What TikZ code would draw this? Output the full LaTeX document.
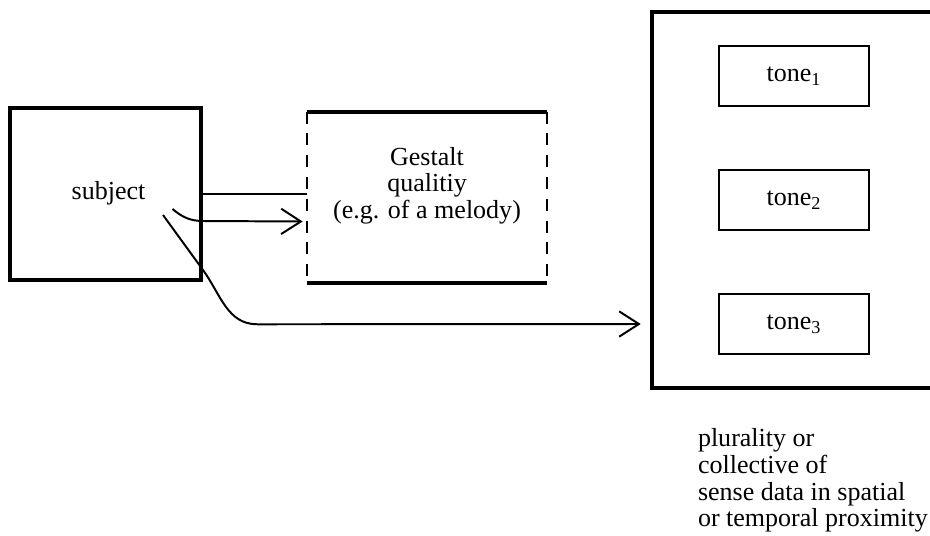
\documentclass[tikz,border=0pt]{standalone}
\usepackage{fontspec}
\setmainfont{Liberation Serif}
\usepackage{tikz}
\usetikzlibrary{arrows.meta, positioning, calc}

\begin{document}
\begin{tikzpicture}[
    x=0.025cm, y=-0.025cm,
    node distance=1.55cm,
    every node/.style={font=\fontsize{18.5}{19}\selectfont, align=center},
    heavybox/.style={rectangle, draw, line width=3.2pt},
    tonebox/.style={rectangle, draw, line width=1.4pt, minimum width=3.75cm, minimum height=1.5cm},
    link/.style={line width=1.4pt},
    arrow/.style={link, -{Straight Barb[length=14pt, width=18pt, line width=1.4pt]}}
]
\clip (0,0) rectangle (930,535);
\useasboundingbox (0,0) rectangle (930,535);

% Nodes
\node (subj) [heavybox, minimum width=4.775cm, minimum height=4.3cm] at (105.5,194) {};
\node (subjtext) at ($(subj.center)+(3,-1)$) {subject};
\node (gest) [rectangle, minimum width=6cm, minimum height=4.275cm] at (427,197.5) {};
\node (gesttext) at ($(gest.center)+(0,-12)$) {Gestalt\\ qualitiy\\ (e.g. of a melody)};
\node (plur) [heavybox, minimum width=7.7cm, minimum height=9.4cm] at (806,200) {};

\node (tone2) [tonebox] at (794,200) {tone\textsubscript{2}};
\node (tone1) [tonebox, above=of tone2] {tone\textsubscript{1}};
\node (tone3) [tonebox, below=of tone2] {tone\textsubscript{3}};

\node (caption) [align=left, inner sep=0pt, below right=0.95cm and 1.2cm of plur.south west]
    {plurality or\\ collective of\\ sense data in spatial\\ or temporal proximity};

% Gestalt frame: solid top and bottom, dashed sides
\draw [line width=3pt] (gest.north west) -- (gest.north east);
\draw [line width=3pt] (gest.south west) -- (gest.south east);
\draw [line width=1.2pt, dash pattern=on 8.5pt off 7pt] (gest.north west) -- (gest.south west);
\draw [line width=1.2pt, dash pattern=on 8.5pt off 7pt] (gest.north east) -- (gest.south east);

% Connectors
\draw [link] (subj.east) -- (subj.east -| gest.west);
\draw [link] ($(gest.east)+(0,2.5)$) -- ($(gest.east)+(0,2.5)$ -| plur.west);

\coordinate (q1) at ($(subj.center)+(67,15)$);
\coordinate (q2) at ($(subj.center)+(57.5,21)$);
\draw [arrow] (q1) to[out=-40, in=180] ($(subj.east)+(0,27)$) -- ($(gest.west)+(-4,24)$);
\draw [arrow] (q2) -- ++(40,55) to[out=-54, in=180] ($(subj.south east)+(54,42)$) -- ($(plur.west)+(-9,124)$);

\end{tikzpicture}
\end{document}
